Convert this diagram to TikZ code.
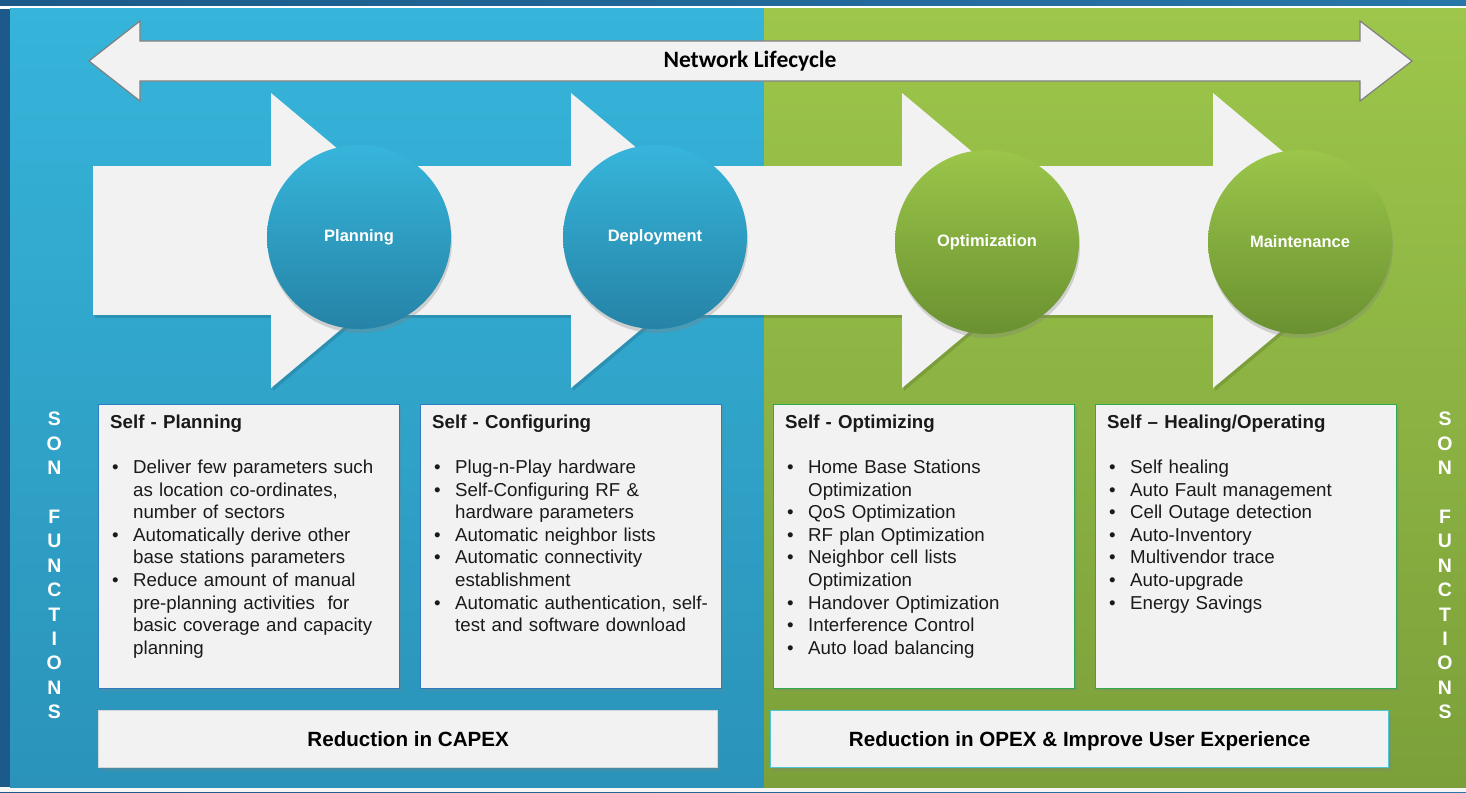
\documentclass[tikz,border=0pt]{standalone}
\usepackage{fontspec}
\setmainfont{Liberation Sans}
\newfontfamily\calib{Carlito}
\usetikzlibrary{shadows}

\definecolor{frameA}{HTML}{1B5A8A}
\definecolor{frameB}{HTML}{2876A8}
\definecolor{bluetop}{HTML}{36B4DA}
\definecolor{bluebot}{HTML}{2B93B9}
\definecolor{greentop}{HTML}{9DC64B}
\definecolor{greenbot}{HTML}{7BA03A}
\definecolor{paper}{HTML}{F2F2F2}
\definecolor{edgegray}{HTML}{808080}
\definecolor{boxblue}{HTML}{2E7BC4}
\definecolor{boxgreen}{HTML}{2DAA4F}
\definecolor{cyanedge}{HTML}{4EC4D8}
\definecolor{capedge}{HTML}{D0D8DC}
\definecolor{circbtop}{HTML}{37B5DB}
\definecolor{circbbot}{HTML}{2583A6}
\definecolor{circgtop}{HTML}{9BC64A}
\definecolor{circgbot}{HTML}{6A9131}
\definecolor{textc}{HTML}{1A1A1A}

% bullet item with a hanging indent; \nl breaks a line inside the item
\newcommand\bitem{\par\noindent\hangindent=23pt\hangafter=1
  \makebox[23pt][l]{\hspace{2pt}\textbullet}}
\newcommand\nl{\hfil\break}
\newcommand\boxtitle[1]{\noindent\rule{0pt}{24pt}\textbf{#1}\par\vspace{22.6pt}}

\begin{document}
\begin{tikzpicture}[x=1pt,y=-1pt,
  phase/.style={circle, minimum size=184, inner sep=0, text=white,
    font=\bfseries\fontsize{16.5}{20}\selectfont,
    drop shadow={shadow xshift=1pt, shadow yshift=-4pt, opacity=0.3}},
  bluephase/.style={phase, top color=circbtop, bottom color=circbbot},
  greenphase/.style={phase, top color=circgtop, bottom color=circgbot},
  sonbox/.style={rectangle, fill=paper, line width=1.3, minimum width=301,
    minimum height=284, inner sep=0, anchor=north west,
    drop shadow={opacity=0.25, shadow xshift=2pt, shadow yshift=-2pt}},
  gainbox/.style={rectangle, fill=paper, line width=1.3, minimum height=57,
    inner sep=0, anchor=north west, text=black, text height=15pt,
    text depth=0pt, font=\bfseries\fontsize{20.6}{24}\selectfont,
    drop shadow={opacity=0.3, shadow xshift=2pt, shadow yshift=-3pt}},
  boxtext/.style={inner sep=0, anchor=north west, xshift=12pt,
    text width=320pt, align=left, text=textc,
    font=\fontsize{18.7}{22.6}\selectfont},
  sonletters/.style={inner sep=0, align=center, text=white,
    font=\bfseries\fontsize{19.5}{24.4}\selectfont}]

\useasboundingbox (0,0) rectangle (1466,792);

% frame and the two halves of the lifecycle
\fill[left color=frameA, right color=frameB] (0,0) rectangle (1466,792);
\fill[white] (0,6) rectangle (1466,9);
\fill[white!92!gray] (0,787) rectangle (1466,792);
\fill[top color=bluetop, bottom color=bluebot] (10,9) rectangle (764,787);
\fill[top color=greentop, bottom color=greenbot] (764,9) rectangle (1466,787);

% lifecycle double arrow
\filldraw[fill=paper, draw=edgegray, line width=1.2]
  (89,61) -- (140,21) -- (140,41) -- (1360,41) -- (1360,21) -- (1412,61)
  -- (1360,101) -- (1360,81) -- (140,81) -- (140,101) -- cycle;
\node[font=\calib\bfseries\fontsize{23.5}{28}\selectfont, text=black] (life)
  at (750,61) {Network Lifecycle};

% chevron band carrying the phases
\begin{scope}[fill=black, opacity=0.12, shift={(2,3)}]
  \fill (93,166) rectangle (1300,315);
  \foreach \xb in {271,571,902,1213}
    \fill (\xb,93) -- ++(176,147.5) -- (\xb,388) -- cycle;
\end{scope}
\fill[paper] (93,166) rectangle (1300,315);
\foreach \xb in {271,571,902,1213}
  \fill[paper] (\xb,93) -- ++(176,147.5) -- (\xb,388) -- cycle;

% phases
\node[bluephase] (plan) at (359,237) {Planning};
\node[bluephase] (deploy) at (655,237) {Deployment};
\node[greenphase] (optim) at (987,242) {Optimization};
\node[greenphase] (maint) at (1300,242) {Maintenance};

% SON function boxes
\node[sonbox, draw=boxblue] (bplan) at (98,404) {};
\node[boxtext] (tplan) at (bplan.north west) {%
  \boxtitle{Self - Planning}%
  \bitem Deliver few parameters such\nl as location co-ordinates,\nl number of sectors
  \bitem Automatically derive other\nl base stations parameters
  \bitem Reduce amount of manual\nl pre-planning activities\ \ for\nl basic coverage and capacity\nl planning\par};

\node[sonbox, draw=boxblue] (bconf) at (420,404) {};
\node[boxtext] (tconf) at (bconf.north west) {%
  \boxtitle{Self - Configuring}%
  \bitem Plug-n-Play hardware
  \bitem Self-Configuring RF \&\nl hardware parameters
  \bitem Automatic neighbor lists
  \bitem Automatic connectivity\nl establishment
  \bitem Automatic authentication, self-\nl test and software download\par};

\node[sonbox, draw=boxgreen] (bopt) at (773,404) {};
\node[boxtext] (topt) at (bopt.north west) {%
  \boxtitle{Self - Optimizing}%
  \bitem Home Base Stations\nl Optimization
  \bitem QoS Optimization
  \bitem RF plan Optimization
  \bitem Neighbor cell lists\nl Optimization
  \bitem Handover Optimization
  \bitem Interference Control
  \bitem Auto load balancing\par};

\node[sonbox, draw=boxgreen] (bheal) at (1095,404) {};
\node[boxtext] (theal) at (bheal.north west) {%
  \boxtitle{Self – Healing/Operating}%
  \bitem Self healing
  \bitem Auto Fault management
  \bitem Cell Outage detection
  \bitem Auto-Inventory
  \bitem Multivendor trace
  \bitem Auto-upgrade
  \bitem Energy Savings\par};

% benefit bars
\node[gainbox, draw=capedge, minimum width=619] (capex) at (98,710)
  {Reduction in CAPEX};
\node[gainbox, draw=cyanedge, minimum width=618] (opex) at (770,710)
  {Reduction in OPEX \& Improve User Experience};

% side captions
\node[sonletters] (sonl) at (54.3,565.5)
  {S\\O\\N\\\mbox{}\\F\\U\\N\\C\\T\\I\\O\\N\\S};
\node[sonletters] (sonr) at (1445,565.5)
  {S\\O\\N\\\mbox{}\\F\\U\\N\\C\\T\\I\\O\\N\\S};
\end{tikzpicture}
\end{document}
